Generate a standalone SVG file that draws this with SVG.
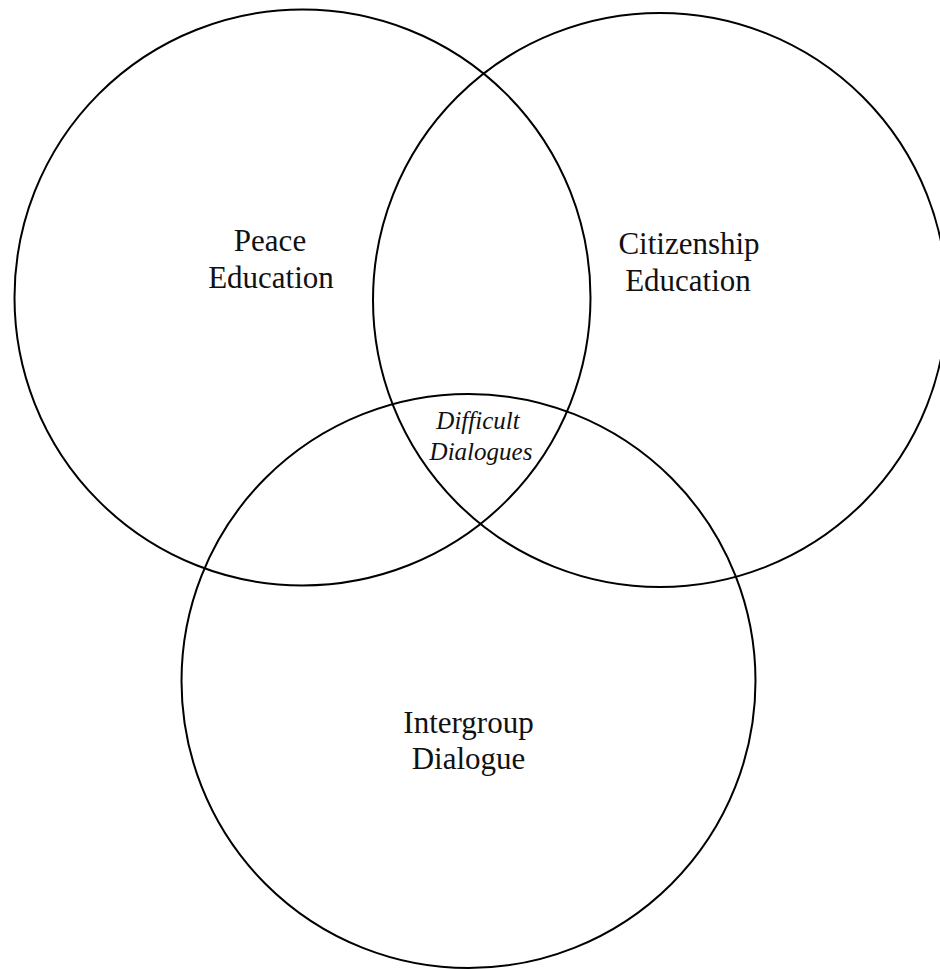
<svg xmlns="http://www.w3.org/2000/svg" width="940" height="969" viewBox="0 0 940 969">
<style>
.c{fill:none;stroke:#000;stroke-width:2}
.t{font-family:"Liberation Serif",serif;font-size:31px;fill:#111;text-anchor:middle}
.i{font-family:"Liberation Serif",serif;font-size:25px;font-style:italic;fill:#111;text-anchor:middle}
</style>
<rect width="940" height="969" fill="#fff"/>
<g id="peace">
<circle class="c" cx="302.5" cy="297.5" r="288"/>
<text class="t" x="270" y="251">Peace</text>
<text class="t" x="271" y="288">Education</text>
</g>
<g id="citizenship">
<circle class="c" cx="660" cy="300" r="287"/>
<text class="t" x="689" y="254">Citizenship</text>
<text class="t" x="688" y="291">Education</text>
</g>
<g id="intergroup">
<circle class="c" cx="468.5" cy="681" r="287"/>
<text class="t" x="468.5" y="733">Intergroup</text>
<text class="t" x="468.5" y="769">Dialogue</text>
</g>
<g id="difficult">
<text class="i" x="478" y="429">Difficult</text>
<text class="i" x="481" y="460">Dialogues</text>
</g>
<g id="connectors"></g>
</svg>
